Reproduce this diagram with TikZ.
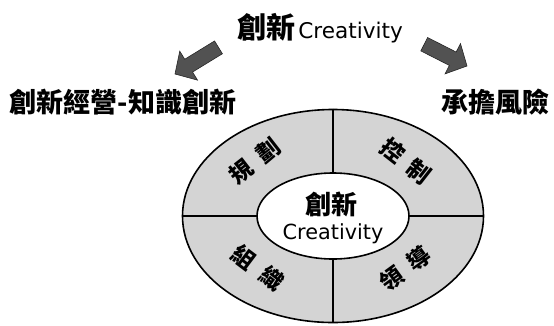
\documentclass[tikz,border=0pt]{standalone}
\usepackage{fontspec}
\usetikzlibrary{shapes.geometric}
\newfontfamily\cjk{Noto Sans CJK TC}
\newfontfamily\lat{DejaVu Sans}
\tikzset{
  ring/.style={ellipse, draw=black, line width=1.6pt, inner sep=0pt},
  divider/.style={draw=black, line width=1.4pt},
  bigarrow/.style={fill=black!68, draw=black!85, line width=0.6pt},
  cjklabel/.style={inner sep=0pt, font=\cjk\bfseries\fontsize{27}{30}\selectfont},
  ringlabel/.style={inner sep=0pt, font=\cjk\bfseries\fontsize{23}{26}\selectfont},
}
\begin{document}
\begin{tikzpicture}[x=1pt, y=-1pt]
\useasboundingbox (0,0) rectangle (554,325);
% ring
\node[ring, fill=black!17, minimum width=301pt, minimum height=213pt] (outer) at (333,216) {};
\draw[divider] (outer.north) -- (outer.south);
\draw[divider] (outer.west) -- (outer.east);
\node[ring, fill=white, minimum width=152pt, minimum height=86pt] (inner) at (333,216) {};
% centre text
\node[inner sep=0pt, font=\cjk\bfseries\fontsize{26}{28}\selectfont] (cz) at (331,204) {創新};
\node[inner sep=0pt, anchor=base, font=\lat\fontsize{20.8}{24}\selectfont] (ce) at (333,239) {Creativity};
% ring labels
\node[ringlabel, rotate=38] (plan) at (255,161) {規\hspace{11pt}劃};
\node[ringlabel, rotate=-38] (ctrl) at (406,161) {控\hspace{11pt}制};
\node[ringlabel, rotate=-37] (org) at (258,268) {組\hspace{11pt}織};
\node[ringlabel, rotate=36] (lead) at (405,269) {領\hspace{11pt}導};
% title
\node[inner sep=0pt, anchor=base] (title) at (320,38) {{\cjk\bfseries\fontsize{29}{32}\selectfont 創新} {\lat\fontsize{21.6}{26}\selectfont Creativity}};
% side texts
\node[cjklabel, anchor=base] (left) at (123,112) {創新經營-知識創新};
\node[cjklabel, anchor=base] (right) at (495,112) {承擔風險};
% arrows
\coordinate (ltip) at (175,74);
\coordinate (rtip) at (467,66);
\begin{scope}[shift={(ltip)}, rotate=211.5]
  \path[bigarrow] (0,0) -- (-16,17) -- (-16,7.5) -- (-51,7.5) -- (-51,-7.5) -- (-16,-7.5) -- (-16,-17) -- cycle;
\end{scope}
\begin{scope}[shift={(rtip)}, rotate=-27]
  \path[bigarrow] (0,0) -- (-16,17) -- (-16,7.5) -- (-48,7.5) -- (-48,-7.5) -- (-16,-7.5) -- (-16,-17) -- cycle;
\end{scope}
\end{tikzpicture}
\end{document}
